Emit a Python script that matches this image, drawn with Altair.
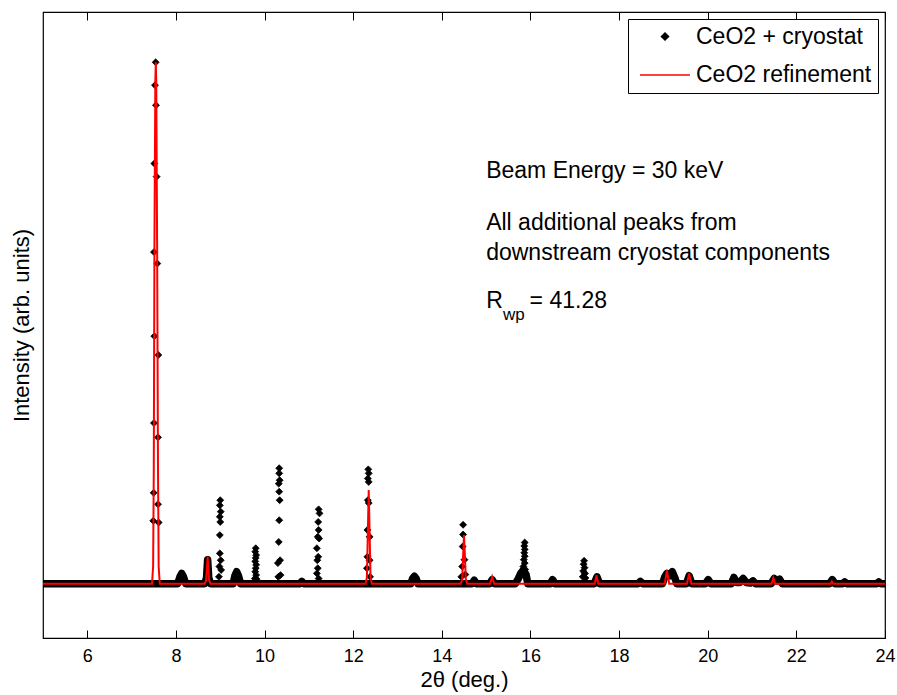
import altair as alt
import pandas as pd

FONT = "Liberation Sans"
SERIES = ["CeO2 + cryostat", "CeO2 refinement"]

# ---- observed data: dense background band (envelope of the overlapping diamonds)
band_x = [5.0,
          8.04, 8.09, 8.13, 8.17, 8.22,
          8.65, 8.69, 8.715, 8.74, 8.78,
          9.29, 9.33, 9.37, 9.41, 9.46,
          10.80, 10.84, 10.88,
          13.30, 13.34, 13.38, 13.42, 13.46,
          14.68, 14.73, 14.78,
          15.08, 15.135, 15.19,
          15.66, 15.72, 15.78, 15.84, 15.90, 15.94,
          16.45, 16.50, 16.55,
          17.44, 17.50, 17.56,
          18.43, 18.48, 18.53,
          18.98, 19.03, 19.08, 19.14, 19.20, 19.26, 19.30,
          19.52, 19.58, 19.64,
          19.95, 20.01, 20.07,
          20.53, 20.59, 20.65, 20.72, 20.80, 20.87, 20.96, 21.02, 21.08,
          21.43, 21.50, 21.56, 21.62, 21.68,
          22.75, 22.81, 22.87,
          23.04, 23.09, 23.14,
          23.81, 23.86, 23.91,
          24.0]
band_y = [0.0,
          0.0, 0.012, 0.018, 0.012, 0.0,
          0.0, 0.010, 0.042, 0.010, 0.0,
          0.0, 0.014, 0.021, 0.014, 0.0,
          0.0, 0.004, 0.0,
          0.0, 0.009, 0.013, 0.009, 0.0,
          0.0, 0.006, 0.0,
          0.0, 0.007, 0.0,
          0.0, 0.008, 0.018, 0.024, 0.016, 0.0,
          0.0, 0.007, 0.0,
          0.0, 0.012, 0.0,
          0.0, 0.004, 0.0,
          0.0, 0.012, 0.018, 0.014, 0.021, 0.010, 0.0,
          0.0, 0.014, 0.0,
          0.0, 0.007, 0.0,
          0.0, 0.011, 0.002, 0.002, 0.009, 0.002, 0.001, 0.005, 0.0,
          0.0, 0.009, 0.005, 0.008, 0.0,
          0.0, 0.007, 0.0,
          0.0, 0.003, 0.0,
          0.0, 0.003, 0.0,
          0.0]

# ---- observed data: individual diamonds on the peaks
p755_x = [7.542, 7.527, 7.549, 7.512, 7.564, 7.504, 7.579, 7.512, 7.602, 7.504, 7.595, 7.497, 7.595, 7.489, 7.610]
p755_y = [0.912, 0.872, 0.837, 0.735, 0.712, 0.580, 0.560, 0.433, 0.400, 0.281, 0.256, 0.159, 0.139, 0.110, 0.107]
p900_x = [9.00, 8.99, 9.01, 8.99, 9.00, 8.99, 8.99, 9.01, 8.98, 9.02, 8.97]
p900_y = [0.146, 0.137, 0.126, 0.117, 0.108, 0.085, 0.053, 0.041, 0.030, 0.024, 0.012]
p980_x = [9.80, 9.79, 9.81, 9.80, 9.79, 9.81, 9.80, 9.79, 9.81, 9.78, 9.82]
p980_y = [0.062, 0.056, 0.050, 0.045, 0.039, 0.033, 0.027, 0.021, 0.015, 0.009, 0.008]
p1033_x = [10.33, 10.33, 10.34, 10.32, 10.33, 10.34, 10.33, 10.32, 10.35, 10.30, 10.36, 10.31]
p1033_y = [0.202, 0.193, 0.181, 0.175, 0.161, 0.146, 0.111, 0.073, 0.041, 0.036, 0.015, 0.012]
p1122_x = [11.22, 11.24, 11.21, 11.22, 11.20, 11.23, 11.18, 11.21, 11.19, 11.20, 11.18, 11.22]
p1122_y = [0.130, 0.123, 0.108, 0.094, 0.082, 0.079, 0.062, 0.047, 0.041, 0.027, 0.018, 0.009]
p1235_x = [12.34, 12.35, 12.33, 12.35, 12.33, 12.35, 12.32, 12.37, 12.32, 12.37, 12.31, 12.38]
p1235_y = [0.200, 0.193, 0.184, 0.178, 0.146, 0.141, 0.094, 0.082, 0.047, 0.041, 0.027, 0.012]
p1448_x = [14.48, 14.48, 14.47, 14.51, 14.46, 14.53, 14.44]
p1448_y = [0.103, 0.086, 0.065, 0.042, 0.030, 0.016, 0.012]
p1586_x = [15.87, 15.86, 15.87, 15.86, 15.87, 15.85, 15.87, 15.84, 15.88, 15.82, 15.79, 15.76, 15.89]
p1586_y = [0.072, 0.066, 0.060, 0.054, 0.048, 0.042, 0.036, 0.030, 0.025, 0.020, 0.018, 0.012, 0.012]
p1721_x = [17.21, 17.20, 17.22, 17.19, 17.23, 17.18, 17.24]
p1721_y = [0.040, 0.034, 0.028, 0.022, 0.018, 0.012, 0.010]

# ---- refinement curve
ref_x = [5.0, 7.46, 7.485, 7.50, 7.515, 7.535, 7.545, 7.555, 7.575, 7.595, 7.61, 7.635,
         8.65, 8.68, 8.70, 8.715, 8.73, 8.75, 8.78,
         12.28, 12.31, 12.33, 12.35, 12.37, 12.39, 12.42,
         14.43, 14.46, 14.48, 14.50, 14.52, 14.54, 14.57,
         15.09, 15.135, 15.18,
         17.45, 17.49, 17.53,
         19.03, 19.08, 19.13,
         19.53, 19.58, 19.63,
         21.44, 21.48, 21.52,
         22.77, 22.80, 22.83,
         24.0]
ref_y = [0.0, 0.0, 0.03, 0.2, 0.6, 0.88, 0.912, 0.88, 0.6, 0.2, 0.03, 0.0,
         0.0, 0.006, 0.028, 0.047, 0.028, 0.006, 0.0,
         0.0, 0.012, 0.09, 0.164, 0.09, 0.012, 0.0,
         0.0, 0.008, 0.05, 0.085, 0.05, 0.008, 0.0,
         0.0, 0.012, 0.0,
         0.0, 0.015, 0.0,
         0.0, 0.023, 0.0,
         0.0, 0.018, 0.0,
         0.0, 0.010, 0.0,
         0.0, 0.004, 0.0,
         0.0]

x_ticks = [6, 8, 10, 12, 14, 16, 18, 20, 22, 24]

ann_x = [15.0, 15.0, 15.0, 15.0, 15.98]
ann_y = [0.710, 0.619, 0.566, 0.483, 0.483]
ann_text = ["Beam Energy = 30 keV", "All additional peaks from",
            "downstream cryostat components", "R", "= 41.28"]
sub_x = [15.38]
sub_y = [0.461]
sub_text = ["wp"]

# ---------------------------------------------------------------
peak_x = p755_x + p900_x + p980_x + p1033_x + p1122_x + p1235_x + p1448_x + p1586_x + p1721_x
peak_y = p755_y + p900_y + p980_y + p1033_y + p1122_y + p1235_y + p1448_y + p1586_y + p1721_y

df_band = pd.DataFrame({"x": band_x, "y": band_y})
df_pts = pd.DataFrame({"x": peak_x, "y": peak_y, "series": SERIES[0]})
df_ref = pd.DataFrame({"x": ref_x, "y": ref_y})
df_ann = pd.DataFrame({"x": ann_x, "y": ann_y, "t": ann_text})
df_sub = pd.DataFrame({"x": sub_x, "y": sub_y, "t": sub_text})

xscale = alt.Scale(domain=[5, 24], nice=False, zero=False)
yscale = alt.Scale(domain=[-0.095, 1.0], nice=False, zero=False)

X_bottom = alt.X("x:Q", scale=xscale,
                 axis=alt.Axis(orient="bottom", title="2θ (deg.)", values=x_ticks, format="d",
                               domain=False, grid=False, offset=-8, tickSize=8,
                               tickColor="black", tickWidth=1,
                               labelPadding=9, labelFontSize=18, labelFont=FONT,
                               labelColor="black", labelFlush=False,
                               titleFont=FONT, titleFontSize=22, titleFontWeight="normal",
                               titleColor="black", titlePadding=4))
X_top = alt.X("x:Q", scale=xscale,
              axis=alt.Axis(orient="top", title=None, labels=False, values=x_ticks,
                            domain=False, grid=False, offset=-8, tickSize=8,
                            tickColor="black", tickWidth=1))
X = alt.X("x:Q", scale=xscale, axis=None)
Y = alt.Y("y:Q", scale=yscale,
          axis=alt.Axis(title="Intensity (arb. units)", labels=False, ticks=False,
                        domain=False, grid=False, titleFont=FONT, titleFontSize=22,
                        titleFontWeight="normal", titleColor="black", titlePadding=10))

leg = alt.Legend(title=None, orient="top-right", offset=7, padding=6,
                 fillColor="white", strokeColor="black", cornerRadius=0,
                 labelFont=FONT, labelFontSize=23, labelColor="black",
                 labelLimit=400, rowPadding=0, labelOffset=5, symbolOffset=5,
                 symbolStrokeWidth=1.6)

band = alt.Chart(df_band).mark_line(color="black", strokeWidth=7.5, strokeJoin="round",
                                    strokeCap="butt").encode(x=X_bottom, y=Y)

top_axis = alt.Chart(df_band).mark_line(opacity=0).encode(x=X_top, y=Y)

pts = alt.Chart(df_pts).mark_point(filled=True, strokeWidth=0.8, opacity=1).encode(
    x=X, y=Y,
    color=alt.Color("series:N", scale=alt.Scale(domain=SERIES, range=["black", "red"]), legend=leg),
    stroke=alt.Stroke("series:N", scale=alt.Scale(domain=SERIES, range=["black", "red"]), legend=leg),
    shape=alt.Shape("series:N", scale=alt.Scale(domain=SERIES, range=["diamond", "stroke"]), legend=leg),
    size=alt.Size("series:N", scale=alt.Scale(domain=SERIES, range=[48, 2500]), legend=leg),
)

ref = alt.Chart(df_ref).mark_line(color="#ff0000", strokeWidth=2).encode(x=X, y=Y)

ann = alt.Chart(df_ann).mark_text(align="left", baseline="alphabetic", font=FONT,
                                  fontSize=23, color="black").encode(x=X, y=Y, text="t:N")
sub = alt.Chart(df_sub).mark_text(align="left", baseline="alphabetic", font=FONT,
                                  fontSize=17, color="black").encode(x=X, y=Y, text="t:N")

chart = alt.layer(band, top_axis, pts, ref, ann, sub).resolve_axis(x="independent").properties(
    width=842, height=626,
    padding={"left": 43, "top": 12, "right": 12, "bottom": 57},
    autosize=alt.AutoSizeParams(type="none"),
    background="white",
).configure_view(stroke="black", strokeWidth=1.2)

chart.save("out.html", embed_options={"renderer": "svg", "actions": False})
